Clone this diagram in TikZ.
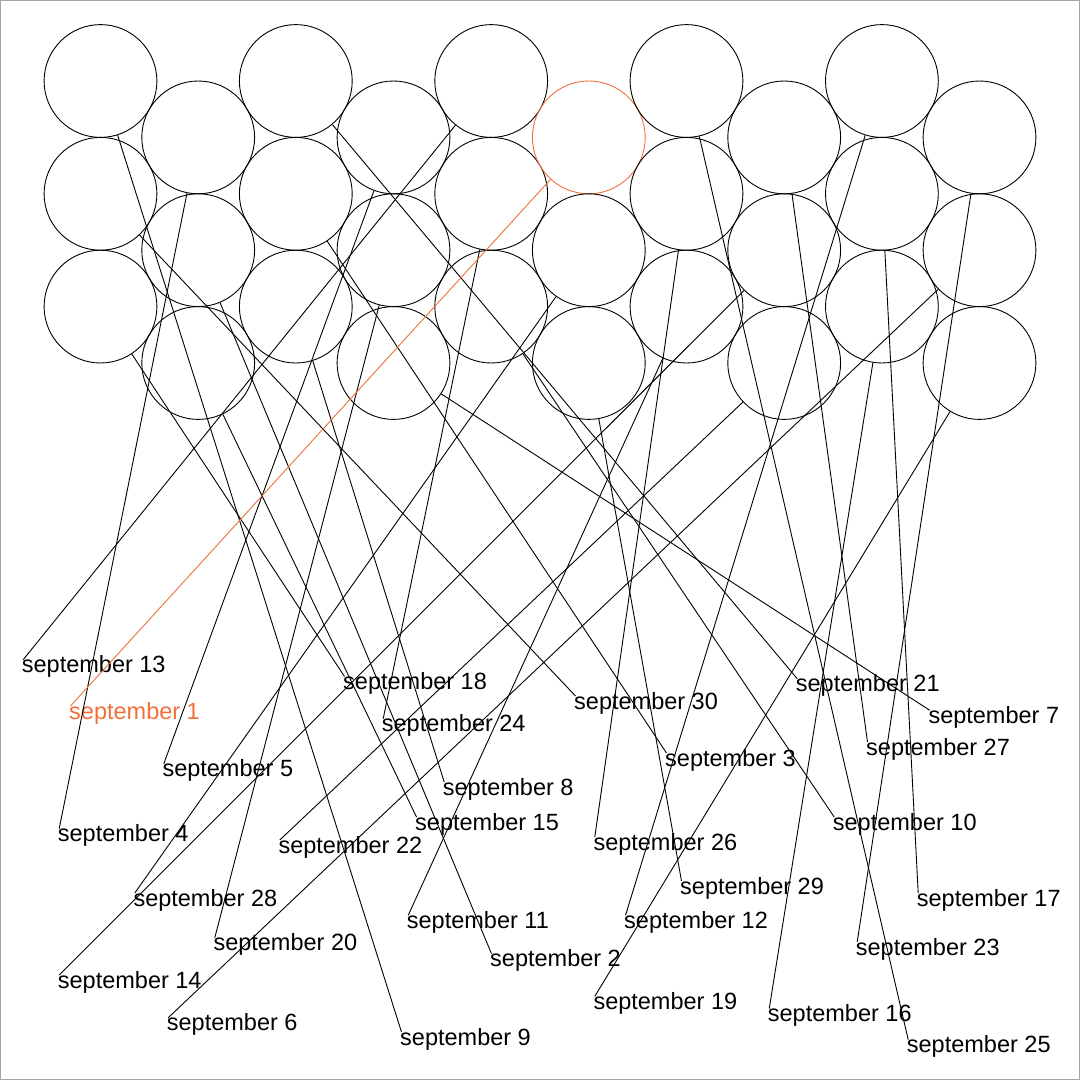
\documentclass[tikz,border=0pt]{standalone}
\usepackage{fontspec}
\setmainfont{Liberation Sans}
\definecolor{hl}{RGB}{240,112,60}
\definecolor{frame}{RGB}{165,165,165}
\begin{document}
\begin{tikzpicture}[x=1pt,y=-1pt,
  bub/.style={circle,draw=black,line width=0.9pt,minimum size=112.8pt,inner sep=0pt},
  lab/.style={anchor=base west,inner sep=0pt,font=\fontsize{23.5}{28}\selectfont},
  conn/.style={draw=black,line width=0.9pt},
  hlconn/.style={draw=hl,line width=0.9pt},
]
\useasboundingbox (0,0) rectangle (1081,1081);
\draw[frame,line width=1pt] (0.5,0.5) rectangle (1079.5,1079.5);

% circles: column c, row r
\node[bub] (c00) at (100.5,81) {};
\node[bub] (c01) at (100.5,193.8) {};
\node[bub] (c02) at (100.5,306.6) {};
\node[bub] (c10) at (198.2,137.4) {};
\node[bub] (c11) at (198.2,250.2) {};
\node[bub] (c12) at (198.2,363) {};
\node[bub] (c20) at (295.8,81) {};
\node[bub] (c21) at (295.8,193.8) {};
\node[bub] (c22) at (295.8,306.6) {};
\node[bub] (c30) at (393.5,137.4) {};
\node[bub] (c31) at (393.5,250.2) {};
\node[bub] (c32) at (393.5,363) {};
\node[bub] (c40) at (491.2,81) {};
\node[bub] (c41) at (491.2,193.8) {};
\node[bub] (c42) at (491.2,306.6) {};
\node[bub,draw=hl] (c50) at (588.8,137.4) {};
\node[bub] (c51) at (588.8,250.2) {};
\node[bub] (c52) at (588.8,363) {};
\node[bub] (c60) at (686.5,81) {};
\node[bub] (c61) at (686.5,193.8) {};
\node[bub] (c62) at (686.5,306.6) {};
\node[bub] (c70) at (784.2,137.4) {};
\node[bub] (c71) at (784.2,250.2) {};
\node[bub] (c72) at (784.2,363) {};
\node[bub] (c80) at (881.9,81) {};
\node[bub] (c81) at (881.9,193.8) {};
\node[bub] (c82) at (881.9,306.6) {};
\node[bub] (c90) at (979.5,137.4) {};
\node[bub] (c91) at (979.5,250.2) {};
\node[bub] (c92) at (979.5,363) {};

% labels (left edge, baseline)
\node[lab,text=hl] (l1) at (69,719) {september 1};
\node[lab] (l2) at (490,966.7) {september 2};
\node[lab] (l3) at (665,766) {september 3};
\node[lab] (l4) at (57.7,841.7) {september 4};
\node[lab] (l5) at (162.3,776.7) {september 5};
\node[lab] (l6) at (166.7,1030.7) {september 6};
\node[lab] (l7) at (928.3,723.3) {september 7};
\node[lab] (l8) at (442.7,795) {september 8};
\node[lab] (l9) at (400,1045) {september 9};
\node[lab] (l10) at (832.7,830) {september 10};
\node[lab] (l11) at (406.7,928.3) {september 11};
\node[lab] (l12) at (624,928.3) {september 12};
\node[lab] (l13) at (21.7,672.7) {september 13};
\node[lab] (l14) at (57.7,988) {september 14};
\node[lab] (l15) at (415,830) {september 15};
\node[lab] (l16) at (767.7,1021.7) {september 16};
\node[lab] (l17) at (916.7,906) {september 17};
\node[lab] (l18) at (343,689.5) {september 18};
\node[lab] (l19) at (593.3,1009.3) {september 19};
\node[lab] (l20) at (213.3,950.7) {september 20};
\node[lab] (l21) at (795.7,691.7) {september 21};
\node[lab] (l22) at (278.3,853) {september 22};
\node[lab] (l23) at (855.7,955) {september 23};
\node[lab] (l24) at (381.7,731.7) {september 24};
\node[lab] (l25) at (906.7,1052.7) {september 25};
\node[lab] (l26) at (593.3,850) {september 26};
\node[lab] (l27) at (866,755) {september 27};
\node[lab] (l28) at (133.3,906) {september 28};
\node[lab] (l29) at (680,894) {september 29};
\node[lab] (l30) at (574,709) {september 30};

% connectors: circle -> label
\def\tip#1{([xshift=1.5pt,yshift=13pt]#1.base west)}
\draw[conn] (c00) -- \tip{l9};
\draw[conn] (c01) -- \tip{l30};
\draw[conn] (c02) -- \tip{l18};
\draw[conn] (c10) -- \tip{l4};
\draw[conn] (c11) -- \tip{l2};
\draw[conn] (c12) -- \tip{l15};
\draw[conn] (c20) -- \tip{l21};
\draw[conn] (c21) -- \tip{l3};
\draw[conn] (c22) -- \tip{l8};
\draw[conn] (c30) -- \tip{l5};
\draw[conn] (c31) -- \tip{l20};
\draw[conn] (c32) -- \tip{l7};
\draw[conn] (c40) -- \tip{l13};
\draw[conn] (c41) -- \tip{l24};
\draw[conn] (c42) -- \tip{l10};
\draw[conn] (c51) -- \tip{l28};
\draw[conn] (c52) -- \tip{l29};
\draw[conn] (c60) -- \tip{l25};
\draw[conn] (c61) -- \tip{l26};
\draw[conn] (c62) -- \tip{l11};
\draw[conn] (c70) -- \tip{l27};
\draw[conn] (c71) -- \tip{l14};
\draw[conn] (c72) -- \tip{l22};
\draw[conn] (c80) -- \tip{l12};
\draw[conn] (c81) -- \tip{l17};
\draw[conn] (c82) -- \tip{l16};
\draw[conn] (c90) -- \tip{l23};
\draw[conn] (c91) -- \tip{l6};
\draw[conn] (c92) -- \tip{l19};
\draw[hlconn] (c50) -- \tip{l1};
\end{tikzpicture}
\end{document}
